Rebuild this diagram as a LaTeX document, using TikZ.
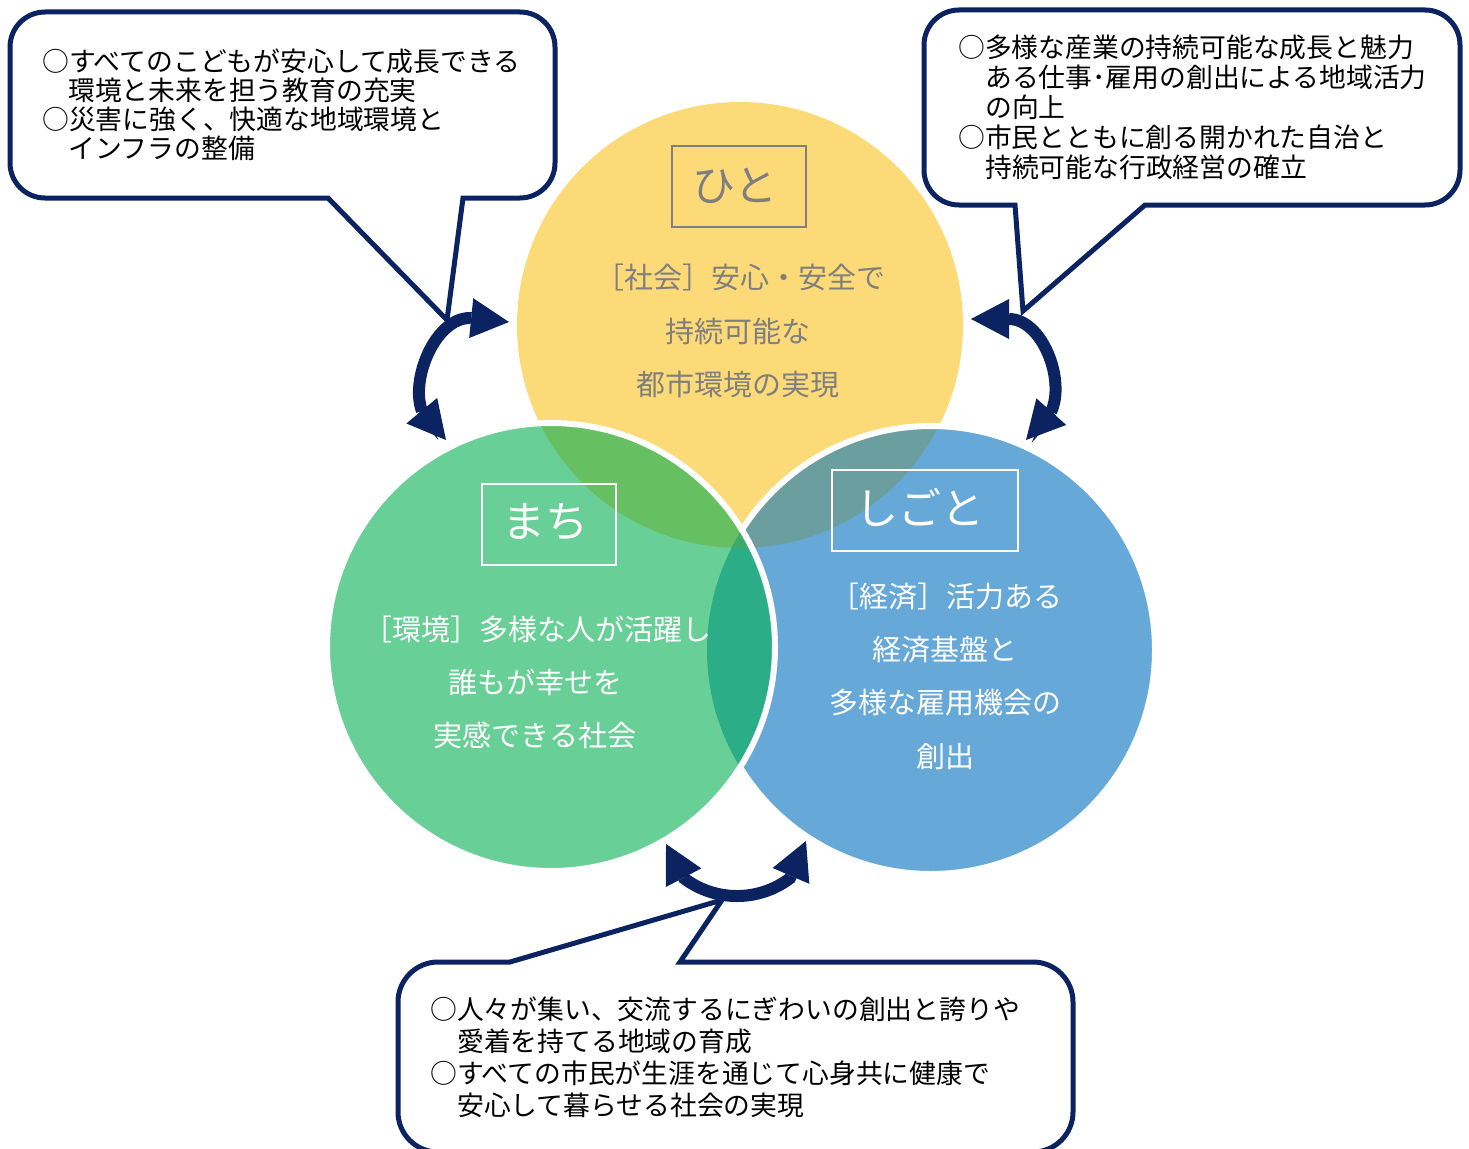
\documentclass[tikz,border=0pt]{standalone}
\usepackage{fontspec}
\newfontfamily\jp{Noto Sans CJK JP}
\usetikzlibrary{arrows.meta}
\definecolor{navy}{HTML}{0B2361}
\definecolor{cY}{HTML}{FDDA78}
\definecolor{cG}{HTML}{68CF97}
\definecolor{cB}{HTML}{66A8D7}
\definecolor{cYG}{HTML}{66BF60}
\definecolor{cYB}{HTML}{6A9E9F}
\definecolor{cGB}{HTML}{2BAE88}
\definecolor{cYGB}{HTML}{3DA96B}
\definecolor{txtgray}{HTML}{7F7F7F}
\begin{document}
\begin{tikzpicture}[x=1pt,y=-1pt,
  callout/.style={draw=navy, line width=5pt, fill=white, line join=miter},
  cjk/.style={font=\jp\fontsize{26.8pt}{30pt}\selectfont, inner sep=0pt, anchor=base west, text=black},
  ctext/.style={font=\jp\fontsize{29pt}{32pt}\selectfont, inner sep=0pt, anchor=base},
  titlebox/.style={draw, line width=2.5pt, minimum height=81pt, inner sep=0pt},
  titletext/.style={font=\jp\fontsize{43pt}{46pt}\selectfont, inner sep=0pt, anchor=base},
  dblarrow/.style={draw=navy, line width=12pt,
    arrows={Triangle[length=38pt,width=40pt,line width=0pt]-Triangle[length=38pt,width=40pt,line width=0pt]}},
  outline/.style={draw=white, line width=6pt}
]
\useasboundingbox (0,0) rectangle (1469,1148);

% ---------- callouts ----------
\draw[callout] (328,198) -- (447,320) -- (463,198) -- (520,198)
  arc[start angle=90,end angle=0,radius=35] -- (555,47)
  arc[start angle=0,end angle=-90,radius=35] -- (45,12)
  arc[start angle=-90,end angle=-180,radius=35] -- (10,163)
  arc[start angle=180,end angle=90,radius=35] -- cycle;

\draw[callout] (1015,205) -- (1023,311) -- (1145,205) -- (1425,205)
  arc[start angle=90,end angle=0,radius=35] -- (1460,45)
  arc[start angle=0,end angle=-90,radius=35] -- (959,10)
  arc[start angle=-90,end angle=-180,radius=35] -- (924,170)
  arc[start angle=180,end angle=90,radius=35] -- cycle;

\draw[callout] (510,962) -- (722,900) -- (680,962) -- (1033,962)
  arc[start angle=-90,end angle=0,radius=40] -- (1073,1112)
  arc[start angle=0,end angle=90,radius=40] -- (438,1152)
  arc[start angle=90,end angle=180,radius=40] -- (398,1002)
  arc[start angle=180,end angle=270,radius=40] -- cycle;

% callout texts
\node[cjk] (tl1) at (42,71) {○すべてのこどもが安心して成長できる};
\node[cjk] (tl2) at (68,100) {環境と未来を担う教育の充実};
\node[cjk] (tl3) at (42,129) {○災害に強く、快適な地域環境と};
\node[cjk] (tl4) at (68,158) {インフラの整備};

\node[cjk] (tr1) at (958,57) {○多様な産業の持続可能な成長と魅力};
\node[cjk] (tr2) at (985,87) {ある仕事･雇用の創出による地域活力};
\node[cjk] (tr3) at (985,117) {の向上};
\node[cjk] (tr4) at (958,147) {○市民とともに創る開かれた自治と};
\node[cjk] (tr5) at (985,177) {持続可能な行政経営の確立};

\node[cjk] (bt1) at (430,1019) {○人々が集い、交流するにぎわいの創出と誇りや};
\node[cjk] (bt2) at (457,1051) {愛着を持てる地域の育成};
\node[cjk] (bt3) at (430,1083) {○すべての市民が生涯を通じて心身共に健康で};
\node[cjk] (bt4) at (457,1115) {安心して暮らせる社会の実現};

% ---------- circles ----------
\fill[cY] (740,325) circle[radius=223];
\fill[cB] (931,650) circle[radius=224];
\begin{scope}
  \clip (931,650) circle[radius=224];
  \fill[cYB] (740,325) circle[radius=223];
\end{scope}
\path[outline] (931,650) circle[radius=224];
\fill[cG] (551,647) circle[radius=224];
\begin{scope}
  \clip (551,647) circle[radius=224];
  \fill[cYG] (740,325) circle[radius=223];
  \fill[cGB] (931,650) circle[radius=224];
  \begin{scope}
    \clip (931,650) circle[radius=224];
    \fill[cYGB] (740,325) circle[radius=223];
  \end{scope}
\end{scope}
\path[outline] (551,647) circle[radius=224];

% ---------- titles ----------
\node[titlebox, draw=txtgray, minimum width=134pt] (hitobox) at (739,186.5) {};
\node[titletext, text=txtgray] (hito) at (735,201) {ひと};
\node[titlebox, draw=white, minimum width=134pt] (machibox) at (549,524.5) {};
\node[titletext, text=white] (machi) at (545,537) {まち};
\node[titlebox, draw=white, minimum width=186pt] (shigotobox) at (925,510.5) {};
\node[titletext, text=white] (shigoto) at (920,524) {しごと};

% ---------- circle texts ----------
\node[ctext, text=txtgray] (y1) at (740,288) {［社会］安心・安全で};
\node[ctext, text=txtgray] (y2) at (738,342) {持続可能な};
\node[ctext, text=txtgray] (y3) at (738,395) {都市環境の実現};

\node[ctext, text=white] (g1) at (537,640) {［環境］多様な人が活躍し};
\node[ctext, text=white] (g2) at (535,693) {誰もが幸せを};
\node[ctext, text=white] (g3) at (535,746) {実感できる社会};

\node[ctext, text=white] (b1) at (946,607) {［経済］活力ある};
\node[ctext, text=white] (b2) at (945,660) {経済基盤と};
\node[ctext, text=white] (b3) at (945,713) {多様な雇用機会の};
\node[ctext, text=white] (b4) at (945,767) {創出};

% ---------- curved double arrows ----------
\coordinate (la1) at (509,322);
\coordinate (la2) at (446,440);
\coordinate (ra1) at (971,319);
\coordinate (ra2) at (1026,440);
\coordinate (ba1) at (666,844);
\coordinate (ba2) at (806,841);
\draw[dblarrow] (la1) -- (470,318) .. controls (435,318) and (410,380) .. (422,411) -- (la2);
\draw[dblarrow] (ra1) -- (1009,319) .. controls (1042,319) and (1066,380) .. (1051,412) -- (ra2);
\draw[dblarrow] (ba1) -- (684,878.3) arc[start angle=127,end angle=53,radius=88] -- (ba2);
\end{tikzpicture}
\end{document}
